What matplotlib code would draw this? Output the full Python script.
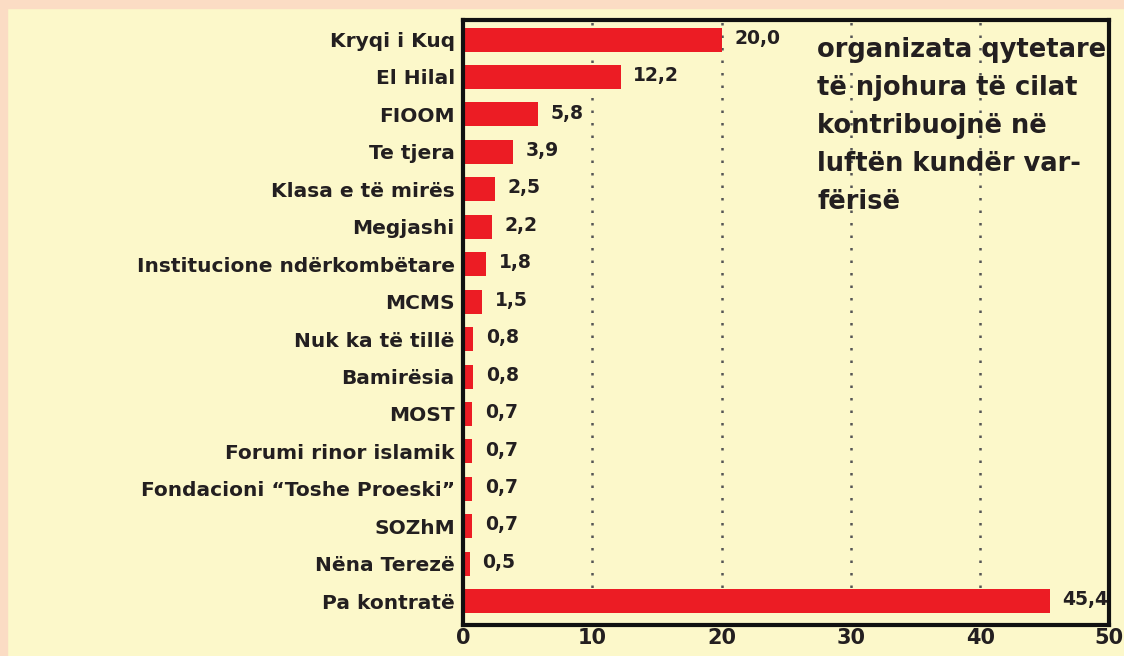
import matplotlib.pyplot as plt
from matplotlib.patches import Rectangle

# === Data ===
categories = ["Kryqi i Kuq", "El Hilal", "FIOOM", "Te tjera", "Klasa e të mirës",
              "Megjashi", "Institucione ndërkombëtare", "MCMS", "Nuk ka të tillë",
              "Bamirësia", "MOST", "Forumi rinor islamik", "Fondacioni “Toshe Proeski”",
              "SOZhM", "Nëna Terezë", "Pa kontratë"]
values = [20.0, 12.2, 5.8, 3.9, 2.5, 2.2, 1.8, 1.5, 0.8, 0.8, 0.7, 0.7, 0.7, 0.7, 0.5, 45.4]
xticks = [0, 10, 20, 30, 40, 50]
note = "organizata qytetare\ntë njohura të cilat\nkontribuojnë në\nluftën kundër var-\nfërisë"

bg = "#fcf8ca"
peach = "#fbdcc4"
red = "#ec1c24"
ink = "#231f20"

fig = plt.figure(figsize=(11.24, 6.56), dpi=100)
fig.patch.set_facecolor(bg)

# peach strips on the top and left edges
fig.add_artist(Rectangle((0, 0.988), 1, 0.012, transform=fig.transFigure, color=peach, zorder=0))
fig.add_artist(Rectangle((0, 0), 0.006, 1, transform=fig.transFigure, color=peach, zorder=0))

ax = fig.add_axes([0.412, 0.047, 0.575, 0.923])
ax.set_facecolor(bg)

pos = list(range(len(categories)))
ax.barh(pos, values, height=0.64, color=red, zorder=2)

for y, v in zip(pos, values):
    ax.annotate(f"{v:.1f}".replace(".", ","), (v, y), xytext=(9, 1), textcoords="offset points",
                ha="left", va="center", fontsize=13.5, fontweight="bold", color=ink, zorder=3)

ax.set_xlim(0, 50)
ax.set_ylim(15.64, -0.53)
ax.set_yticks(pos)
ax.set_yticklabels(categories, fontsize=14.5, fontweight="bold", color=ink)
ax.set_xticks(xticks)
ax.set_xticklabels([str(t) for t in xticks], fontsize=15, fontweight="bold", color=ink)
ax.tick_params(length=0, pad=6)
ax.tick_params(axis="x", pad=2)

for t in xticks[1:-1]:
    ax.axvline(t, color="#555555", linestyle=(0, (1, 4)), linewidth=1.8, zorder=1)

for s in ax.spines.values():
    s.set_linewidth(3)
    s.set_color("#111111")

ax.text(0.548, 0.972, note, transform=ax.transAxes, ha="left", va="top",
        fontsize=18.5, fontweight="bold", color=ink, linespacing=1.6, zorder=4)

plt.savefig("out.png", dpi=100, facecolor=fig.get_facecolor())
